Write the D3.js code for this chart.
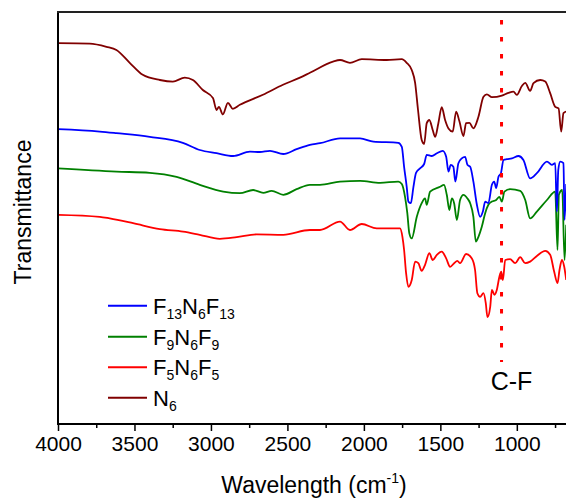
<!DOCTYPE html>
<html><head><meta charset="utf-8">
<script src="https://cdn.jsdelivr.net/npm/d3@7"></script>
<style>body{margin:0;background:#fff}</style>
</head><body><svg id="c" width="566" height="502"></svg>
<script>
const xTicks = [4000,3500,3000,2500,2000,1500,1000];
const xMinorTicks = [3750,3250,2750,2250,1750,1250,750];
const cfPosition = 1100;
const cfLabel = "C-F";

const n6 = [[4000,95.2],[3793,95.1],[3683,94.3],[3618,93.5],[3531,90.3],[3446,87.3],[3334,86.0],[3249,85.6],[3171,86.6],[3118,86.0],[3053,83.5],[2987,81.5],[2963,78.5],[2948,79.3],[2922,77.4],[2889,80.3],[2857,78.8],[2811,79.8],[2660,82.3],[2529,84.8],[2418,86.6],[2353,87.8],[2202,90.6],[2156,91.0],[2091,90.3],[2014,91.2],[1851,91.0],[1752,91.2],[1720,90.3],[1687,88.5],[1665,85.3],[1646,78.5],[1622,71.0],[1606,70.0],[1589,75.2],[1572,76.0],[1550,73.5],[1534,71.8],[1513,75.2],[1491,79.2],[1469,76.0],[1447,73.9],[1419,73.1],[1397,78.1],[1375,75.6],[1349,72.0],[1332,75.2],[1310,75.3],[1284,73.9],[1251,76.8],[1218,81.8],[1196,82.4],[1163,81.7],[1098,82.1],[1055,82.8],[1022,83.1],[1000,82.3],[967,84.5],[945,85.3],[913,83.3],[891,85.2],[847,86.0],[814,85.6],[782,82.7],[749,79.3],[727,78.9],[710,73.1],[695,77.7],[677,78.1]];

const f13 = [[4000,73.7],[3727,73.1],[3618,72.7],[3400,71.8],[3184,70.3],[3073,68.5],[2963,67.7],[2855,67.0],[2745,68.1],[2680,68.0],[2614,68.3],[2527,67.5],[2440,68.7],[2353,69.8],[2287,70.2],[2156,71.4],[2025,71.4],[1938,70.6],[1775,70.3],[1752,69.3],[1737,64.3],[1720,59.3],[1709,55.6],[1693,55.2],[1676,59.3],[1659,62.8],[1633,63.9],[1606,65.0],[1589,67.3],[1556,67.0],[1523,67.7],[1484,68.3],[1462,66.8],[1447,63.1],[1432,64.8],[1415,64.3],[1402,60.6],[1382,65.2],[1360,66.4],[1338,66.8],[1323,64.8],[1305,64.3],[1284,60.6],[1262,55.0],[1240,51.8],[1222,53.1],[1207,55.6],[1186,55.2],[1163,59.8],[1148,60.6],[1135,59.0],[1120,61.8],[1104,62.7],[1087,66.0],[1065,66.2],[1032,66.4],[989,67.0],[957,66.0],[913,61.4],[869,62.7],[803,65.6],[771,64.8],[749,65.2],[738,53.1],[729,63.5],[716,65.6],[695,65.2],[688,51.0],[677,60.0]];

const f9 = [[4000,63.9],[3618,63.1],[3400,62.8],[3225,61.8],[3073,59.8],[2920,58.1],[2811,57.7],[2724,58.5],[2658,57.8],[2603,58.3],[2527,57.3],[2440,58.7],[2353,59.8],[2287,59.8],[2156,60.6],[2025,60.8],[1894,60.3],[1775,60.6],[1752,60.0],[1731,56.8],[1716,52.7],[1703,47.7],[1687,46.4],[1654,51.8],[1622,55.2],[1600,56.4],[1589,54.8],[1567,58.1],[1502,59.3],[1476,59.8],[1458,57.3],[1441,53.5],[1425,56.4],[1410,55.2],[1392,51.0],[1371,56.0],[1349,57.3],[1323,56.4],[1305,55.2],[1284,51.8],[1268,45.6],[1251,46.8],[1229,49.3],[1207,52.7],[1186,54.8],[1163,55.6],[1135,56.0],[1114,56.8],[1098,55.6],[1081,58.1],[1044,58.7],[978,58.3],[945,56.0],[913,51.4],[869,53.1],[803,56.0],[749,58.1],[734,43.5],[725,57.3],[703,58.5],[688,41.0],[677,49.8]];

const f5 = [[4000,52.3],[3727,51.8],[3662,51.4],[3509,50.2],[3334,48.7],[3182,48.1],[3073,47.3],[2942,46.3],[2832,46.7],[2701,47.4],[2527,47.3],[2353,48.5],[2287,48.5],[2156,50.6],[2091,48.5],[2014,50.0],[1916,48.9],[1764,48.9],[1748,46.8],[1737,43.5],[1724,37.7],[1709,34.3],[1687,36.0],[1665,40.6],[1644,40.2],[1622,38.3],[1600,39.8],[1572,42.7],[1550,41.0],[1523,42.3],[1491,43.1],[1462,41.4],[1436,39.3],[1410,40.2],[1389,40.8],[1371,40.2],[1332,42.5],[1294,41.4],[1273,38.5],[1258,32.7],[1240,31.8],[1218,32.7],[1203,30.2],[1192,26.7],[1174,29.3],[1163,33.5],[1146,32.3],[1131,33.5],[1114,36.8],[1102,38.1],[1091,36.0],[1076,41.0],[1044,41.2],[1011,40.2],[978,41.7],[945,40.2],[913,40.6],[869,42.0],[814,43.3],[782,42.3],[756,38.1],[734,35.2],[721,38.5],[705,41.0],[690,39.3],[677,36.0]];

const legendItems = [
  {parts:[["F",0],["13",1],["N",0],["6",1],["F",0],["13",1]], color:"#0000FF"},
  {parts:[["F",0],["9",1],["N",0],["6",1],["F",0],["9",1]], color:"#008000"},
  {parts:[["F",0],["5",1],["N",0],["6",1],["F",0],["5",1]], color:"#FF0000"},
  {parts:[["N",0],["6",1]], color:"#800000"}
];
const drawOrder = [[n6,"#800000"],[f5,"#FF0000"],[f9,"#008000"],[f13,"#0000FF"]];

const svg = d3.select("#c");
const font = "'Liberation Sans', Arial, sans-serif";
const pL = 58, pT = 12, pB = 424, pR = 578;
const x = d3.scaleLinear().domain([4000, 600]).range([pL, pR]);
const y = d3.scaleLinear().domain([0, 103]).range([pB, pT]);

svg.append("clipPath").attr("id","clip").append("rect")
  .attr("x", pL).attr("y", pT).attr("width", pR-pL).attr("height", pB-pT);

const line = d3.line().x(d=>x(d[0])).y(d=>y(d[1])).curve(d3.curveMonotoneX);
const g = svg.append("g").attr("clip-path","url(#clip)");
drawOrder.forEach(([s,col])=>{
  g.append("path").datum(s).attr("d", line).attr("fill","none")
   .attr("stroke", col).attr("stroke-width", 1.8).attr("stroke-linejoin","round");
});

// C-F dotted line
svg.append("line").attr("x1", x(cfPosition)).attr("x2", x(cfPosition))
  .attr("y1", y(101)).attr("y2", y(15.5))
  .attr("stroke","#FF0000").attr("stroke-width",3).attr("stroke-dasharray","4.5 12.5");
svg.append("text").attr("x", x(cfPosition)+10).attr("y", 390)
  .attr("text-anchor","middle").attr("font-family",font).attr("font-size",25)
  .attr("fill","#000").text(cfLabel);

// axes
const xAxis = d3.axisBottom(x).tickValues(xTicks).tickSize(7).tickSizeOuter(0).tickPadding(5)
  .tickFormat(d3.format("d"));
const ax = svg.append("g").attr("transform",`translate(0,${pB})`).call(xAxis);
ax.select(".domain").remove();
ax.selectAll(".tick line").attr("stroke","#000").attr("stroke-width",1.5);
ax.selectAll(".tick text").attr("font-family",font).attr("font-size",21).attr("fill","#000");
const axm = svg.append("g").attr("transform",`translate(0,${pB})`)
  .call(d3.axisBottom(x).tickValues(xMinorTicks).tickSize(4).tickSizeOuter(0).tickFormat(""));
axm.select(".domain").remove();
axm.selectAll(".tick line").attr("stroke","#000").attr("stroke-width",1.5);

svg.append("line").attr("x1",pL).attr("x2",566).attr("y1",pB).attr("y2",pB)
  .attr("stroke","#000").attr("stroke-width",2);
svg.append("line").attr("x1",pL).attr("x2",pL).attr("y1",pT).attr("y2",pB+1)
  .attr("stroke","#000").attr("stroke-width",2);
svg.append("line").attr("x1",pL-1).attr("x2",566).attr("y1",pT).attr("y2",pT)
  .attr("stroke","#222").attr("stroke-width",2);

// axis titles
const xt = svg.append("text").attr("x",314).attr("y",493).attr("text-anchor","middle")
  .attr("font-family",font).attr("font-size",23).attr("fill","#000");
xt.append("tspan").text("Wavelength (cm");
xt.append("tspan").attr("font-size",14).attr("dy",-10).text("-1");
xt.append("tspan").attr("dy",10).text(")");
svg.append("text").attr("transform","translate(31,212) rotate(-90)").attr("text-anchor","middle")
  .attr("font-family",font).attr("font-size",23).attr("fill","#000").text("Transmittance");

// legend
const legY = [305.7, 336.7, 367.3, 397.7];
legendItems.forEach((it,i)=>{
  const yy = legY[i];
  svg.append("line").attr("x1",108).attr("x2",147).attr("y1",yy).attr("y2",yy)
    .attr("stroke",it.color).attr("stroke-width",2);
  const t = svg.append("text").attr("x",153).attr("y",yy+8)
    .attr("font-family",font).attr("font-size",22).attr("fill","#000");
  let sub = 0;
  it.parts.forEach(p=>{
    const ts = t.append("tspan").text(p[0]);
    if (p[1] && !sub) { ts.attr("font-size",14).attr("dy",5); sub=1; }
    else if (!p[1] && sub) { ts.attr("dy",-5); sub=0; }
    else if (p[1]) ts.attr("font-size",14);
  });
});
</script></body></html>
